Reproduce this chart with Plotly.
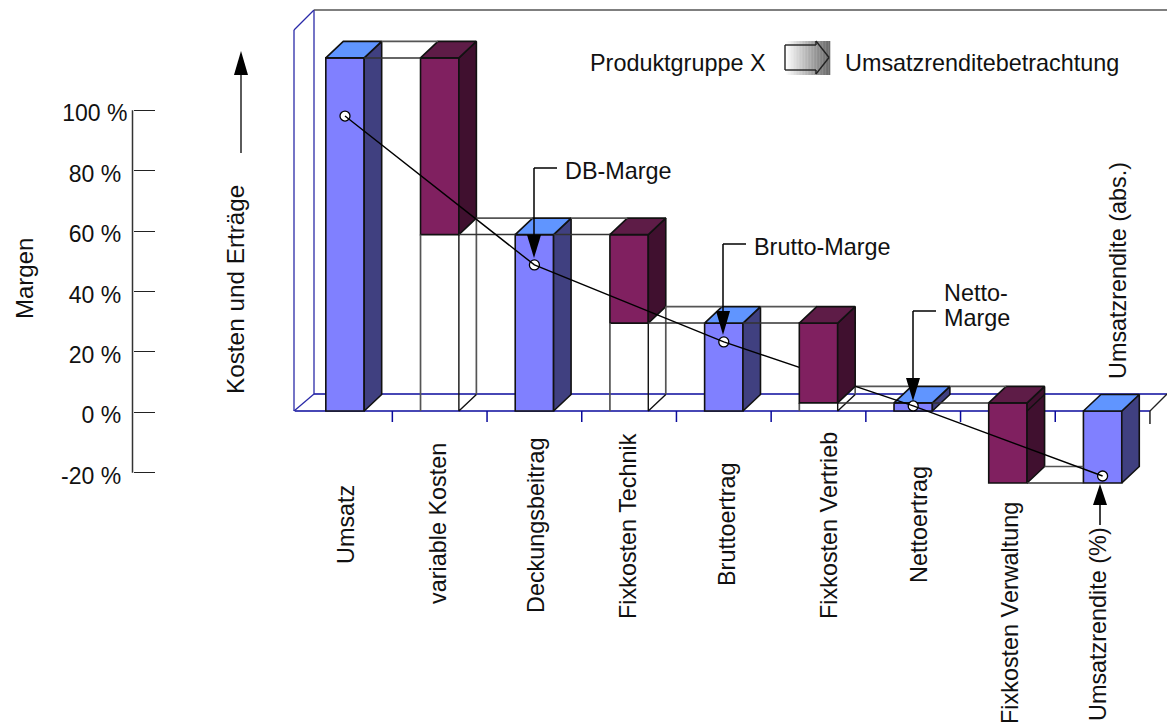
import plotly.graph_objects as go

# ---------- data ----------
CATEGORIES = ["Umsatz", "variable Kosten", "Deckungsbeitrag", "Fixkosten Technik", "Bruttoertrag",
              "Fixkosten Vertrieb", "Nettoertrag", "Fixkosten Verwaltung", "Umsatzrendite (%)"]
BAR_LOW = [0, 58.8, 0, 29.3, 0, 2.7, 0, -24, -24]
BAR_HIGH = [117.7, 117.7, 58.8, 58.8, 29.3, 29.3, 2.7, 2.7, 0]
BAR_KIND = ["sum", "cost", "sum", "cost", "sum", "cost", "sum", "cost", "sum"]
CONNECTOR_LEVELS = [117.7, 58.8, 58.8, 29.3, 29.3, 2.7, 2.7, -24]
MARGIN_X = [0, 2, 4, 6, 8]
MARGIN_VALUES = [98.1, 48.8, 23.3, 2.1, -21.1]
MARGIN_TICKS = [-20, 0, 20, 40, 60, 80, 100]
MARGIN_LABELS = ["-20 %\u00a0", "0 %\u00a0", "20 %\u00a0", "40 %\u00a0", "60 %\u00a0", "80 %\u00a0", "100 %"]

# ---------- layout constants ----------
W, H = 1167, 724
X0, XSTEP = 345.0, 94.7
Y0_ABS, ABS_SCALE = 411.0, 3.0
Y0_M, M_SCALE = 412.3, 3.02
BAR_W = 0.405
DX = 17.5 / XSTEP
DY = 16.5 / ABS_SCALE
FONT = "Liberation Sans"
FS = 23.4
C_FRONT = {"sum": "#8080ff", "cost": "#802060"}
C_SIDE = {"sum": "#404080", "cost": "#40102f"}
C_TOP = {"sum": "#6095ff", "cost": "#5e1c47"}
NAVY = "#0a0a9c"
EDGE = "#111111"
GREY = "#555555"
LW = 1.6


def px(i):
    return X0 + XSTEP * i


def pap(x, y):
    return x / W, 1 - y / H


shapes, annotations = [], []


def seg(x0, y0, x1, y1, color="#000000", width=1.5, layer="above"):
    a, b = pap(x0, y0), pap(x1, y1)
    shapes.append(dict(type="line", xref="paper", yref="paper", x0=a[0], y0=a[1], x1=b[0], y1=b[1],
                       line=dict(color=color, width=width), layer=layer))


def poly(points, fill="#000000"):
    path = "M" + " L".join("%.5f,%.5f" % pap(*p) for p in points) + " Z"
    shapes.append(dict(type="path", xref="paper", yref="paper", path=path, fillcolor=fill,
                       line=dict(width=0), layer="above"))


def text(t, x, y, angle=0, size=FS, xanchor="center"):
    a = pap(x, y)
    annotations.append(dict(text=t, x=a[0], y=a[1], xref="paper", yref="paper", showarrow=False,
                            textangle=angle, xanchor=xanchor, yanchor="middle", borderpad=0,
                            font=dict(family=FONT, size=size, color="#111111")))


# ---------- walls and floor ----------
FLOOR_L, FLOOR_R, FLOOR_Y, BACK_Y = 295, 1150, 411, 394
seg(FLOOR_L, FLOOR_Y, FLOOR_R, FLOOR_Y, NAVY, 1.5, "below")
seg(FLOOR_L + 19, BACK_Y, W, BACK_Y, NAVY, 1.5, "below")
seg(FLOOR_L - 1, FLOOR_Y, FLOOR_L + 19, BACK_Y, "#2a2aa8", 1.3, "below")
seg(FLOOR_L - 1, FLOOR_Y, FLOOR_L - 1, 30, "#2a2aa8", 1.3, "below")
seg(FLOOR_L + 19, BACK_Y, FLOOR_L + 19, 10, "#2a2aa8", 1.3, "below")
seg(FLOOR_L - 1, 30, FLOOR_L + 19, 10, "#2a2aa8", 1.3, "below")
seg(FLOOR_L + 19, 10, W, 10, GREY, 1.5, "below")
seg(FLOOR_R, FLOOR_Y, W, BACK_Y, "#222222", 1.3, "below")
for k in range(len(CATEGORIES)):
    last = k == len(CATEGORIES) - 1
    seg(px(k + 0.5), FLOOR_Y, px(k + 0.5), FLOOR_Y + (13 if last else 11), "#222222" if last else NAVY, 1.5, "below")

# ---------- bars ----------
traces = []


def add_bar(i, yaxis):
    low, high, kind = BAR_LOW[i], BAR_HIGH[i], BAR_KIND[i]
    r = i + BAR_W / 2
    l = i - BAR_W / 2
    traces.append(go.Bar(x=[i], y=[high - low], base=[low], width=BAR_W, yaxis=yaxis, showlegend=False,
                         marker=dict(color=C_FRONT[kind], line=dict(color=EDGE, width=LW))))
    traces.append(go.Scatter(x=[r, r + DX, r + DX, r, r], y=[low, low + DY, high + DY, high, low], mode="lines",
                             fill="toself", fillcolor=C_SIDE[kind], yaxis=yaxis, showlegend=False,
                             line=dict(color=EDGE, width=LW)))
    traces.append(go.Scatter(x=[l, r, r + DX, l + DX, l], y=[high, high, high + DY, high + DY, high], mode="lines",
                             fill="toself", fillcolor=C_TOP[kind], yaxis=yaxis, showlegend=False,
                             line=dict(color=EDGE, width=LW)))
    if low < 0 < high:
        traces.append(go.Scatter(x=[r, r + DX], y=[0, DY], mode="lines", yaxis=yaxis, showlegend=False,
                                 line=dict(color=EDGE, width=1.4)))


for i in range(len(CATEGORIES)):
    if i != 5:
        add_bar(i, "y")

# unfilled boxes carrying the cost bars
for i in range(len(CATEGORIES)):
    low = BAR_LOW[i]
    if BAR_KIND[i] == "cost" and low > 0:
        r = i + BAR_W / 2
        l = i - BAR_W / 2
        traces.append(go.Scatter(x=[l, l, None, r + DX, r + DX], y=[low, 0, None, low + DY, DY], mode="lines",
                                 showlegend=False, line=dict(color=GREY, width=1.7)))
        traces.append(go.Scatter(x=[r, r, r + DX], y=[low, 0, DY], mode="lines",
                                 showlegend=False, line=dict(color=EDGE, width=1.4)))

# connector plates
for i, level in enumerate(CONNECTOR_LEVELS):
    r = i + BAR_W / 2
    l = i + 1 - BAR_W / 2
    back = level + DY
    hidden = BAR_LOW[i + 1] < back < BAR_HIGH[i + 1]
    end = l if hidden else l + DX
    traces.append(go.Scatter(x=[r, l], y=[level, level], mode="lines", showlegend=False,
                             line=dict(color="#333333", width=1.5)))
    traces.append(go.Scatter(x=[r + DX, end], y=[back, back], mode="lines", showlegend=False,
                             line=dict(color=GREY, width=1.6)))

# margin points, with the line running over them
traces.append(go.Scatter(x=MARGIN_X, y=MARGIN_VALUES, yaxis="y2", mode="markers", showlegend=False,
                         cliponaxis=False,
                         marker=dict(symbol="circle", size=10, color="#ffffff", line=dict(color="#000000", width=1.3))))
traces.append(go.Scatter(x=MARGIN_X, y=MARGIN_VALUES, yaxis="y2", mode="lines", showlegend=False,
                         cliponaxis=False, line=dict(color="#000000", width=1.4)))

# this cost bar sits in front of the margin line
add_bar(5, "y3")

# ---------- left axis line ----------
a0 = Y0_M - M_SCALE * MARGIN_TICKS[-1]
a1 = Y0_M - M_SCALE * MARGIN_TICKS[0]
seg(132.5, a0, 132.5, a1, "#333333", 1.5)

# ---------- arrows ----------
HEAD_W = 7


def down_head(x, top, tip):
    poly([(x - HEAD_W, top), (x + HEAD_W, top), (x, tip)])


# DB-Marge
seg(534, 168, 557, 168)
seg(534, 168, 534, 235)
down_head(534, 235, 258)
text("DB-Marge", 564, 171, xanchor="left")
# Brutto-Marge
seg(723, 244, 746, 244)
seg(723, 244, 723, 313)
down_head(723, 311, 335)
text("Brutto-Marge", 753, 247, xanchor="left")
# Netto-Marge
seg(913, 311, 936, 311)
seg(913, 311, 913, 378)
down_head(913, 378, 401)
text("Netto-", 943, 293, xanchor="left")
text("Marge", 943, 318, xanchor="left")
# Umsatzrendite (%)
seg(1100, 505, 1100, 525)
poly([(1100 - HEAD_W, 505), (1100 + HEAD_W, 505), (1100, 484)])
# Kosten und Erträge
seg(241, 75, 241, 153, "#333333", 1.6)
poly([(241 - HEAD_W, 75), (241 + HEAD_W, 75), (241, 51)])

# ---------- gradient block arrow ----------
GX0, GX1, GY0, GY1 = 785, 830, 41, 75
STRIPS = 30
for k in range(STRIPS):
    t = k / (STRIPS - 1)
    v = int(255 - (255 - 105) * t)
    x0 = GX0 + (GX1 - GX0) * k / STRIPS
    x1 = GX0 + (GX1 - GX0) * (k + 1) / STRIPS
    poly([(x0, GY0), (x1 + 0.3, GY0), (x1 + 0.3, GY1), (x0, GY1)], "rgb(%d,%d,%d)" % (v, v, v))
arrow_pts = [(785, 45), (816, 45), (816, 41), (829, 57.5), (816, 74), (816, 70), (785, 70), (785, 45)]
for p, q in zip(arrow_pts[:-1], arrow_pts[1:]):
    seg(p[0], p[1], q[0], q[1], "#222222", 1.4)

# ---------- texts ----------
text("Produktgruppe X", 589, 63, xanchor="left")
text("Umsatzrenditebetrachtung", 844, 63, xanchor="left")
text("Margen", 24, 279, angle=-90, size=24)
text("Kosten und Erträge", 235, 290, angle=-90, size=24.3)
text("Umsatzrendite (abs.)", 1118, 271, angle=-90)
LABEL_X = [346, 438, 536, 628, 727, 829, 919, 1010, 1098]
LABEL_Y = [525, 524, 525, 526, 524, 525, 525, 613, 624]
for name, lx, ly in zip(CATEGORIES, LABEL_X, LABEL_Y):
    text(name, lx, ly, angle=-90)

# ---------- figure ----------
abs_range = [(Y0_ABS - H) / ABS_SCALE, Y0_ABS / ABS_SCALE]
m_range = [(Y0_M - H) / M_SCALE, Y0_M / M_SCALE]
fig = go.Figure(traces)
fig.update_layout(
    width=W, height=H, autosize=False, margin=dict(l=0, r=0, t=0, b=0),
    paper_bgcolor="#ffffff", plot_bgcolor="rgba(0,0,0,0)", barmode="overlay", showlegend=False,
    hovermode=False, shapes=shapes, annotations=annotations,
    xaxis=dict(range=[-X0 / XSTEP, (W - X0) / XSTEP], visible=False, domain=[0, 1]),
    yaxis=dict(range=abs_range, visible=False, domain=[0, 1]),
    yaxis2=dict(range=m_range, overlaying="y", anchor="free", position=132.5 / W, side="left",
                tickmode="array", tickvals=MARGIN_TICKS, ticktext=MARGIN_LABELS, ticks="inside", ticklen=21,
                tickwidth=1.4, tickcolor="#222222", showgrid=False, zeroline=False, showline=False,
                ticklabelstandoff=5, ticklabelshift=3, tickfont=dict(family=FONT, size=23, color="#111111")),
    yaxis3=dict(range=abs_range, overlaying="y", visible=False),
)
fig.write_html("out.html", config={"displayModeBar": False}, post_script="document.body.style.margin='0';")
